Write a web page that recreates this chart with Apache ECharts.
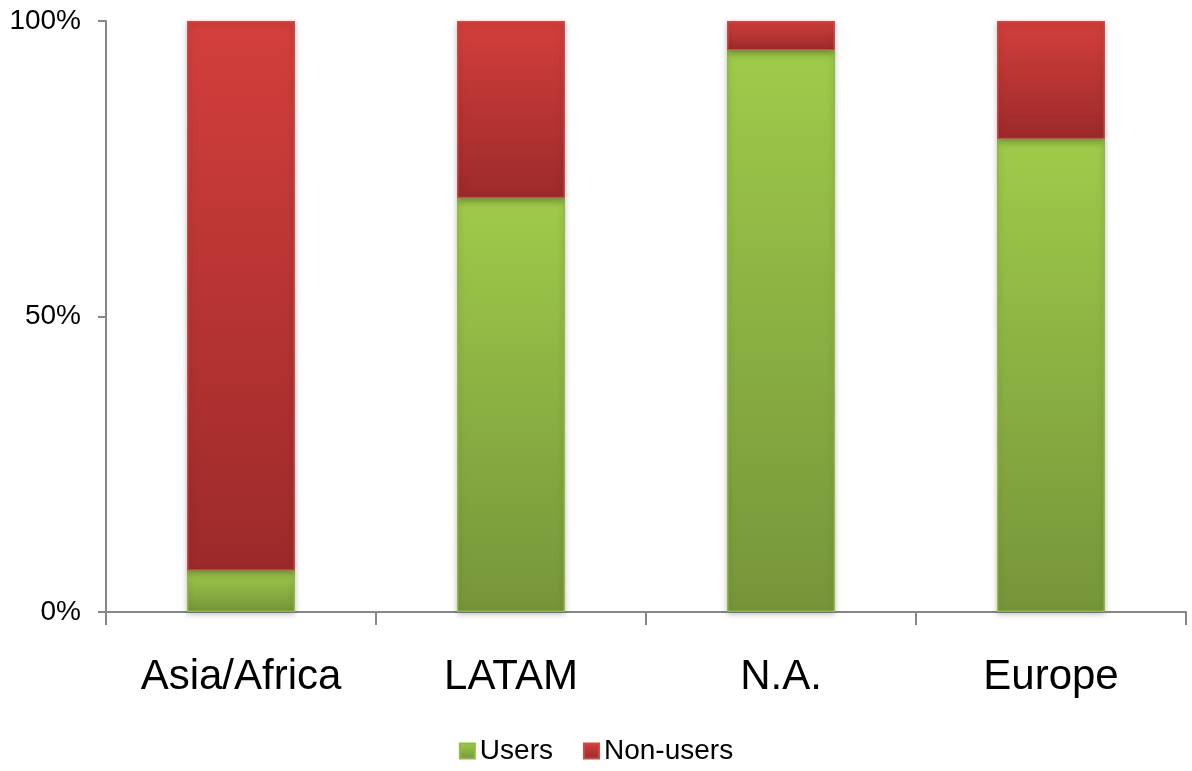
<!DOCTYPE html>
<html><head><meta charset="utf-8">
<script src="https://cdn.jsdelivr.net/npm/echarts@6/dist/echarts.min.js"></script>
<style>html,body{margin:0;padding:0;background:#fff}#c{width:1192px;height:771px}</style>
</head><body><div id="c"></div>
<script>
const categories = ['Asia/Africa', 'LATAM', 'N.A.', 'Europe'];
const users = [7, 70, 95, 80];
const nonUsers = [93, 30, 5, 20];
const yTicks = [0, 50, 100];

const chart = echarts.init(document.getElementById('c'));
const grad = (top, bottom) => new echarts.graphic.LinearGradient(0, 0, 0, 1, [{offset: 0, color: top}, {offset: 1, color: bottom}]);
const font = 'Liberation Sans, Arial, sans-serif';
chart.setOption({
  animation: false,
  grid: {left: 106, right: 6, top: 21, bottom: 159},
  legend: {
    bottom: 1, left: 'center', itemWidth: 15, itemHeight: 15, itemGap: 30,
    icon: 'rect',
    textStyle: {fontSize: 28, fontFamily: font, color: '#000'},
    data: ['Users', 'Non-users']
  },
  xAxis: {
    type: 'category', data: categories,
    axisLine: {lineStyle: {color: '#888', width: 2}},
    axisTick: {show: true, length: 13, lineStyle: {color: '#888', width: 2}},
    axisLabel: {fontSize: 42, fontFamily: font, color: '#000', margin: 44}
  },
  yAxis: {
    type: 'value', min: 0, max: 100, interval: 50,
    axisLine: {show: true, lineStyle: {color: '#888', width: 2}},
    axisTick: {show: true, length: 8, lineStyle: {color: '#888', width: 2}},
    splitLine: {show: false},
    axisLabel: {fontSize: 28, fontFamily: font, color: '#000', margin: 25,
      formatter: v => yTicks.includes(v) ? v + '%' : ''}
  },
  series: [
    {name: 'Users', type: 'bar', stack: 's', barWidth: '40%', data: users,
     itemStyle: {color: grad('#9fcb4a', '#76953a'), borderColor: '#8cbc45', borderWidth: 1.5,
       shadowColor: 'rgba(0,0,0,0.25)', shadowBlur: 6, shadowOffsetY: 2}},
    {name: 'Non-users', type: 'bar', stack: 's', barWidth: '40%', data: nonUsers,
     itemStyle: {color: grad('#d33f3c', '#9c2a2a'), borderColor: '#cc4a47', borderWidth: 1.5,
       shadowColor: 'rgba(0,0,0,0.25)', shadowBlur: 6, shadowOffsetY: 2}}
  ]
});
</script></body></html>
